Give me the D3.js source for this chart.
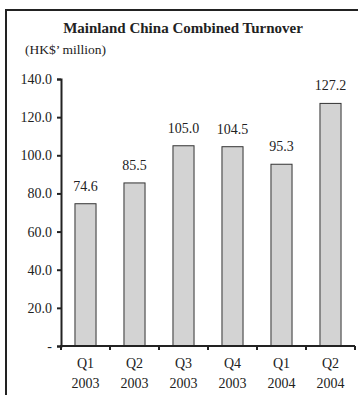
<!DOCTYPE html>
<html>
<head>
<meta charset="utf-8">
<script src="https://cdn.jsdelivr.net/npm/d3@7"></script>
<style>
  body { margin: 0; background: #fff; }
  text { font-family: "Liberation Serif", "Times New Roman", serif; fill: #222; }
</style>
</head>
<body>
<script>
// data
const quarters = ["Q1", "Q2", "Q3", "Q4", "Q1", "Q2"];
const years = ["2003", "2003", "2003", "2003", "2004", "2004"];
const turnover = [74.6, 85.5, 105.0, 104.5, 95.3, 127.2];
const yTicks = [0, 20, 40, 60, 80, 100, 120, 140];

const W = 358, H = 395;
const svg = d3.select("body").append("svg")
    .attr("width", W).attr("height", H);

// frame (top + left only, rest is cropped)
svg.append("line").attr("x1", 5).attr("x2", W).attr("y1", 10).attr("y2", 10)
    .attr("stroke", "#222").attr("stroke-width", 2);
svg.append("line").attr("x1", 6).attr("x2", 6).attr("y1", 9).attr("y2", H)
    .attr("stroke", "#222").attr("stroke-width", 2);

svg.append("text").attr("x", 183).attr("y", 33)
    .attr("text-anchor", "middle")
    .style("font-weight", "bold").style("font-size", "15px")
    .text("Mainland China Combined Turnover");

svg.append("text").attr("x", 25).attr("y", 54)
    .style("font-size", "13.5px")
    .text("(HK$\u2019 million)");

const keys = d3.range(turnover.length);
const x = d3.scaleBand().domain(keys).range([61, 355]).paddingInner(0.57).paddingOuter(0.285);
const y = d3.scaleLinear().domain([0, 140]).range([346, 79]);

// y axis
const yAxis = svg.append("g").attr("transform", "translate(61,0)")
    .call(d3.axisLeft(y).tickValues(yTicks).tickSize(4).tickPadding(5)
        .tickFormat(d => d === 0 ? "-" : d3.format(".1f")(d)));
yAxis.select(".domain").attr("stroke", "#222").attr("stroke-width", 2);
yAxis.selectAll(".tick line").attr("stroke", "#222").attr("stroke-width", 2);
yAxis.selectAll(".tick text").style("font-size", "14px").attr("fill", "#222");

// bars
svg.selectAll("rect.bar").data(turnover).enter().append("rect")
    .attr("class", "bar")
    .attr("x", (d, i) => x(i))
    .attr("y", d => y(d))
    .attr("width", x.bandwidth())
    .attr("height", d => y(0) - y(d))
    .attr("fill", "#d3d3d3")
    .attr("stroke", "#333").attr("stroke-width", 1);

// value labels
svg.selectAll("text.val").data(turnover).enter().append("text")
    .attr("class", "val")
    .attr("x", (d, i) => x(i) + x.bandwidth() / 2)
    .attr("y", d => y(d) - 13)
    .attr("text-anchor", "middle")
    .style("font-size", "14px")
    .text(d => d3.format(".1f")(d));

// x axis with ticks between categories
const step = x.step();
svg.append("line").attr("x1", 60).attr("x2", 355).attr("y1", y(0)).attr("y2", y(0))
    .attr("stroke", "#222").attr("stroke-width", 2);
svg.selectAll("line.xt").data(d3.range(turnover.length + 1)).enter().append("line")
    .attr("class", "xt")
    .attr("x1", i => 61 + i * step).attr("x2", i => 61 + i * step)
    .attr("y1", y(0)).attr("y2", y(0) + 4)
    .attr("stroke", "#222").attr("stroke-width", 2);

const cat = svg.selectAll("g.cat").data(keys).enter().append("g")
    .attr("class", "cat")
    .attr("transform", i => `translate(${x(i) + x.bandwidth() / 2},0)`);
cat.append("text").attr("y", 368).attr("text-anchor", "middle")
    .style("font-size", "14px").text(i => quarters[i]);
cat.append("text").attr("y", 388).attr("text-anchor", "middle")
    .style("font-size", "14px").text(i => years[i]);
</script>
</body>
</html>
